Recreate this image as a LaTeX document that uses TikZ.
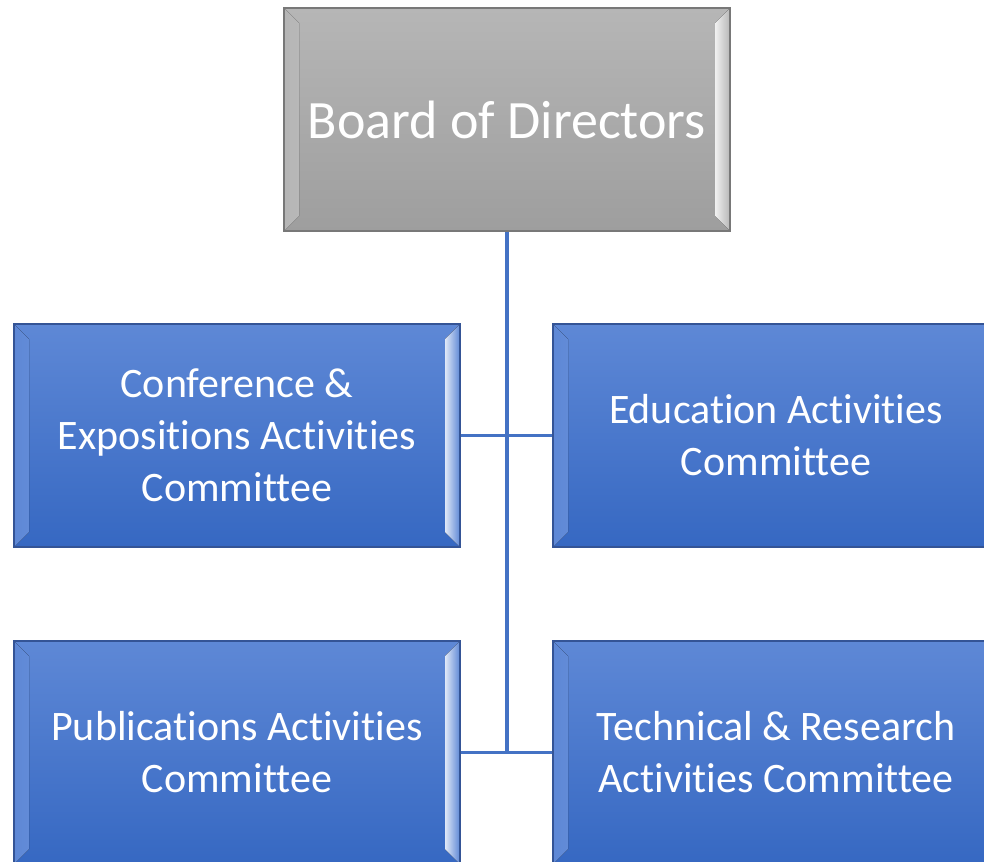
\documentclass[tikz,border=0pt]{standalone}
\usepackage{fontspec}
\setmainfont{Carlito}[RawFeature={-liga;-clig;-calt;-dlig}]

\definecolor{linkblue}{RGB}{68,114,196}
\definecolor{boardtop}{RGB}{182,182,182}
\definecolor{boardbot}{RGB}{158,158,158}
\definecolor{boardedge}{RGB}{120,120,120}
\definecolor{comtop}{RGB}{94,136,214}
\definecolor{combot}{RGB}{54,104,194}
\definecolor{comedge}{RGB}{52,84,150}

\tikzset{
	% box with the light side bevels
	bevel/.style={
		minimum width=334.5pt, minimum height=167.25pt, inner sep=0pt,
		align=center, text=white, line width=0.8pt,
		path picture={
			\fill[left color=#1, right color=white!75!#1]
			(path picture bounding box.north west) -- ++(15,15)
			-- ([shift={(15,-15)}]path picture bounding box.south west)
			-- (path picture bounding box.south west) -- cycle;
			\fill[left color=white!80!#1, right color=#1]
			(path picture bounding box.north east) -- ++(-15,15)
			-- ([shift={(-15,-15)}]path picture bounding box.south east)
			-- (path picture bounding box.south east) -- cycle;
	}},
	board/.style={bevel=boardtop, draw=boardedge, top color=boardtop, bottom color=boardbot,
		font=\fontsize{40.5}{48}\selectfont},
	committee/.style={bevel=comtop, draw=comedge, top color=comtop, bottom color=combot,
		font=\fontsize{31.5}{39}\selectfont},
	link/.style={draw=linkblue, line width=2.3pt}
}

\begin{document}
\begin{tikzpicture}[x=0.75pt, y=-0.75pt] % one unit is one pixel, y runs down
	\useasboundingbox (0,0) rectangle (984,861);
	\clip (0,0) rectangle (984,861);
	
	% Boxes
	\node[board] (board) at (507,119.5) {Board of Directors};
	\node[committee] (conf) at (237,435.5) {Conference \&\\Expositions Activities\\Committee};
	\node[committee] (edu) at (776,435.5) {Education Activities\\Committee};
	\node[committee] (pub) at (237,752.5) {Publications Activities\\Committee};
	\node[committee] (tech) at (776,752.5) {Technical \& Research\\Activities Committee};
	
	% Connectors
	\draw[link] (board.south) -- (board.south |- pub.east);
	\draw[link] (conf.east) -- (edu.west);
	\draw[link] (pub.east) -- (tech.west);
\end{tikzpicture}
\end{document}
